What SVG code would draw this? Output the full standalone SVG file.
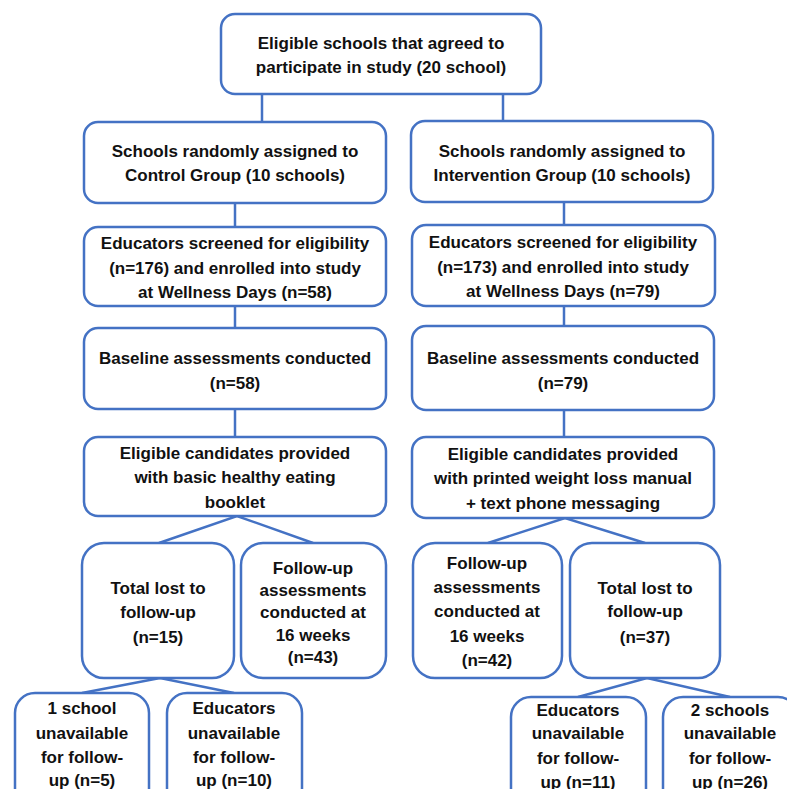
<svg xmlns="http://www.w3.org/2000/svg" width="787" height="789" viewBox="0 0 787 789">
  <style>
    .box { fill: #ffffff; stroke: #4472C4; stroke-width: 2.5; }
    .link { stroke: #4472C4; stroke-width: 2.5; fill: none; }
    text { font-family: "Liberation Sans", Arial, sans-serif; font-weight: bold; font-size: 17px; fill: #111111; text-anchor: middle; }
  </style>
  <rect width="787" height="789" fill="#ffffff"/>

  <!-- connectors -->
  <g id="connectors">
    <line class="link" x1="262" y1="94" x2="262" y2="122"/>
    <line class="link" x1="503" y1="94" x2="503" y2="121"/>
    <line class="link" x1="235" y1="203" x2="235" y2="227"/>
    <line class="link" x1="564" y1="202" x2="564" y2="225"/>
    <line class="link" x1="235" y1="306" x2="235" y2="328"/>
    <line class="link" x1="564" y1="306" x2="564" y2="326"/>
    <line class="link" x1="235" y1="409" x2="235" y2="437"/>
    <line class="link" x1="564" y1="410" x2="564" y2="437"/>
    <polyline class="link" points="159,543 237,516 313,543"/>
    <polyline class="link" points="488,543 565,518 645,543"/>
    <polyline class="link" points="82,693 160,678 234,693"/>
    <polyline class="link" points="578,697 647,678 730,697"/>
  </g>

  <g id="eligible-schools">
    <rect class="box" x="221" y="14" width="320" height="80" rx="14"/>
    <text x="381" y="49">Eligible schools that agreed to</text>
    <text x="381" y="73">participate in study (20 school)</text>
  </g>

  <g id="control-group">
    <rect class="box" x="84" y="122" width="302" height="81" rx="14"/>
    <text x="235" y="157">Schools randomly assigned to</text>
    <text x="235" y="181">Control Group (10 schools)</text>
  </g>

  <g id="intervention-group">
    <rect class="box" x="411" y="121" width="302" height="81" rx="14"/>
    <text x="562" y="157">Schools randomly assigned to</text>
    <text x="562" y="181">Intervention Group (10 schools)</text>
  </g>

  <g id="control-screening">
    <rect class="box" x="84" y="227" width="302" height="79" rx="14"/>
    <text x="235" y="249">Educators screened for eligibility</text>
    <text x="235" y="274">(n=176) and enrolled into study</text>
    <text x="235" y="298">at Wellness Days (n=58)</text>
  </g>

  <g id="intervention-screening">
    <rect class="box" x="412" y="225" width="303" height="81" rx="14"/>
    <text x="563" y="248">Educators screened for eligibility</text>
    <text x="563" y="273">(n=173) and enrolled into study</text>
    <text x="563" y="297">at Wellness Days (n=79)</text>
  </g>

  <g id="control-baseline">
    <rect class="box" x="84" y="328" width="302" height="81" rx="14"/>
    <text x="235" y="364">Baseline assessments conducted</text>
    <text x="235" y="389">(n=58)</text>
  </g>

  <g id="intervention-baseline">
    <rect class="box" x="412" y="326" width="302" height="84" rx="14"/>
    <text x="563" y="364">Baseline assessments conducted</text>
    <text x="563" y="389">(n=79)</text>
  </g>

  <g id="control-material">
    <rect class="box" x="84" y="437" width="302" height="79" rx="14"/>
    <text x="235" y="459">Eligible candidates provided</text>
    <text x="235" y="483">with basic healthy eating</text>
    <text x="235" y="508">booklet</text>
  </g>

  <g id="intervention-material">
    <rect class="box" x="412" y="437" width="302" height="81" rx="14"/>
    <text x="563" y="460">Eligible candidates provided</text>
    <text x="563" y="484">with printed weight loss manual</text>
    <text x="563" y="509">+ text phone messaging</text>
  </g>

  <g id="control-lost">
    <rect class="box" x="82" y="543" width="152" height="135" rx="22"/>
    <text x="158" y="594">Total lost to</text>
    <text x="158" y="618">follow-up</text>
    <text x="158" y="643">(n=15)</text>
  </g>

  <g id="control-followup">
    <rect class="box" x="241" y="543" width="145" height="135" rx="22"/>
    <text x="313" y="574">Follow-up</text>
    <text x="313" y="596">assessments</text>
    <text x="313" y="618">conducted at</text>
    <text x="313" y="641">16 weeks</text>
    <text x="313" y="663">(n=43)</text>
  </g>

  <g id="intervention-followup">
    <rect class="box" x="413" y="543" width="149" height="135" rx="22"/>
    <text x="487" y="569">Follow-up</text>
    <text x="487" y="593">assessments</text>
    <text x="487" y="617">conducted at</text>
    <text x="487" y="642">16 weeks</text>
    <text x="487" y="666">(n=42)</text>
  </g>

  <g id="intervention-lost">
    <rect class="box" x="570" y="543" width="150" height="135" rx="22"/>
    <text x="645" y="594">Total lost to</text>
    <text x="645" y="617">follow-up</text>
    <text x="645" y="643">(n=37)</text>
  </g>

  <g id="control-school-unavailable">
    <rect class="box" x="15" y="693" width="134" height="120" rx="20"/>
    <text x="82" y="714">1 school</text>
    <text x="82" y="739">unavailable</text>
    <text x="82" y="763">for follow-</text>
    <text x="82" y="786">up (n=5)</text>
  </g>

  <g id="control-educators-unavailable">
    <rect class="box" x="167" y="693" width="135" height="120" rx="20"/>
    <text x="234" y="714">Educators</text>
    <text x="234" y="739">unavailable</text>
    <text x="234" y="763">for follow-</text>
    <text x="234" y="786">up (n=10)</text>
  </g>

  <g id="intervention-educators-unavailable">
    <rect class="box" x="511" y="697" width="135" height="120" rx="20"/>
    <text x="578" y="716">Educators</text>
    <text x="578" y="739">unavailable</text>
    <text x="578" y="764">for follow-</text>
    <text x="578" y="788">up (n=11)</text>
  </g>

  <g id="intervention-schools-unavailable">
    <rect class="box" x="663" y="697" width="135" height="120" rx="20"/>
    <text x="730" y="716">2 schools</text>
    <text x="730" y="739">unavailable</text>
    <text x="730" y="764">for follow-</text>
    <text x="730" y="788">up (n=26)</text>
  </g>
</svg>
